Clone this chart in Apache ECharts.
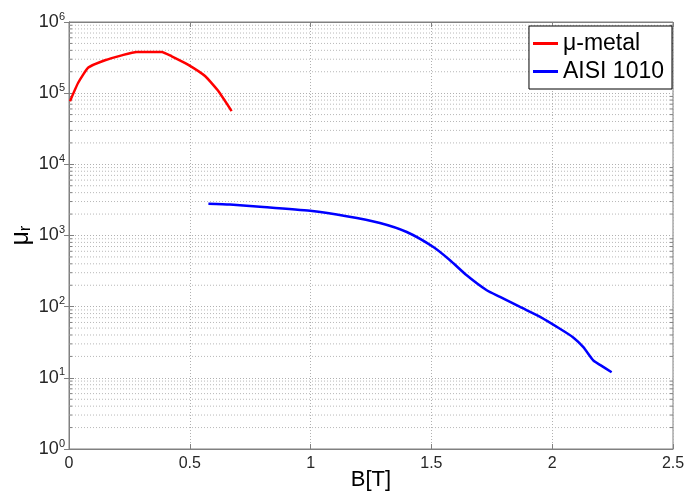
<!DOCTYPE html>
<html>
<head>
<meta charset="utf-8">
<script src="https://cdn.jsdelivr.net/npm/echarts@6/dist/echarts.min.js"></script>
<style>html,body{margin:0;padding:0;background:#fff}#c{width:689px;height:497px}</style>
</head>
<body>
<div id="c"></div>
<script>
// mu-metal data
const muB   = [0.004, 0.038, 0.08, 0.149, 0.218, 0.28, 0.384, 0.425, 0.494, 0.563, 0.618, 0.673];
const muVal = [77000, 140000, 229000, 290000, 340000, 380000, 380000, 330000, 250000, 174000, 107000, 56000];
// AISI 1010 data
const stB   = [0.577, 0.666, 0.804, 0.998, 1.149, 1.287, 1.398, 1.508, 1.577, 1.646, 1.729, 1.784, 1.867, 1.95, 2.032, 2.087, 2.129, 2.17, 2.198, 2.246];
const stVal = [2800, 2720, 2520, 2220, 1870, 1500, 1120, 690, 450, 276, 170, 137, 99, 72, 49, 37, 27, 17.6, 15.2, 12];
// axes
const xTicks = [0, 0.5, 1, 1.5, 2, 2.5];
const yDecades = [0, 1, 2, 3, 4, 5, 6];

const minorVals = [];
for (let e = 0; e < 6; e++) for (let m = 2; m <= 9; m++) minorVals.push([m * Math.pow(10, e)]);

const font = 'Liberation Sans, Arial, sans-serif';
const axisCol = '#808080';
const gridLine = {show: true, lineStyle: {type: [1, 2], color: '#b0b0b0', width: 1}};

const chart = echarts.init(document.getElementById('c'));
chart.setOption({
  animation: false,
  backgroundColor: '#fff',
  grid: {left: 69, right: 16, top: 22, bottom: 48, show: true, borderColor: axisCol, borderWidth: 1,
         containLabel: false, outerBoundsMode: 'none'},
  legend: {
    orient: 'vertical', right: 17, top: 26, padding: [6, 8, 6, 4], itemGap: 5,
    itemWidth: 25, itemHeight: 3, icon: 'rect',
    borderColor: '#000', borderWidth: 1, backgroundColor: '#fff',
    textStyle: {fontSize: 23, color: '#000', fontFamily: font},
    data: ['μ-metal', 'AISI 1010']
  },
  xAxis: [{
    type: 'value', min: xTicks[0], max: xTicks[xTicks.length - 1], interval: 0.5,
    axisLine: {lineStyle: {color: axisCol}},
    axisTick: {inside: true, length: 5, lineStyle: {color: axisCol}},
    axisLabel: {fontSize: 16, color: '#262626', margin: 7, fontFamily: font},
    splitLine: gridLine,
    name: 'B[T]', nameLocation: 'middle', nameGap: 31, nameMoveOverlap: false,
    nameTextStyle: {fontSize: 22, color: '#000', fontFamily: font, verticalAlign: 'middle'}
  }, {
    type: 'value', position: 'top', min: xTicks[0], max: xTicks[xTicks.length - 1], interval: 0.5,
    axisLine: {lineStyle: {color: axisCol}},
    axisTick: {inside: true, length: 5, lineStyle: {color: axisCol}},
    axisLabel: {show: false}, splitLine: {show: false}
  }],
  yAxis: [{
    type: 'log', logBase: 10, min: 1, max: 1e6, splitNumber: 6,
    axisLine: {lineStyle: {color: axisCol}},
    axisTick: {inside: true, length: 5, lineStyle: {color: axisCol}},
    axisLabel: {
      margin: 4, fontFamily: font,
      formatter: v => '{b|10}{s|' + Math.round(Math.log10(v)) + '}',
      rich: {
        b: {fontSize: 18, color: '#262626', fontFamily: font},
        s: {fontSize: 11, color: '#262626', fontFamily: font, padding: [0, 0, 11, 0]}
      }
    },
    splitLine: gridLine,
    name: '{m|μ}{r|r}', nameLocation: 'middle', nameGap: 48, nameRotate: 90, nameMoveOverlap: false,
    nameTextStyle: {
      verticalAlign: 'middle',
      rich: {
        m: {fontSize: 25, color: '#000', fontFamily: font},
        r: {fontSize: 17, color: '#000', fontFamily: font, padding: [0, 0, -8, 0]}
      }
    }
  }, {
    type: 'log', logBase: 10, min: 1, max: 1e6, splitNumber: 6, position: 'right',
    axisLine: {lineStyle: {color: axisCol}},
    axisTick: {inside: true, length: 5, lineStyle: {color: axisCol}},
    axisLabel: {show: false}, splitLine: {show: false}
  }],
  series: [{
    type: 'custom', silent: true, z: 1,
    coordinateSystem: 'cartesian2d',
    encode: {y: 0},
    data: minorVals,
    renderItem: function (params, api) {
      const v = api.value(0);
      const p0 = api.coord([0, v]);
      const p1 = api.coord([2.5, v]);
      return {type: 'group', children: [
        {type: 'line', shape: {x1: p0[0], y1: p0[1], x2: p1[0], y2: p1[1]},
         style: {stroke: '#b8b8b8', lineWidth: 1, lineDash: [1, 2]}},
        {type: 'line', shape: {x1: p0[0], y1: p0[1], x2: p0[0] + 3, y2: p0[1]},
         style: {stroke: axisCol, lineWidth: 1}},
        {type: 'line', shape: {x1: p1[0] - 3, y1: p1[1], x2: p1[0], y2: p1[1]},
         style: {stroke: axisCol, lineWidth: 1}}
      ]};
    }
  }, {
    name: 'μ-metal', type: 'line', showSymbol: false, z: 5, smooth: 0.15,
    data: muB.map((b, i) => [b, muVal[i]]),
    lineStyle: {color: '#ff0000', width: 2.5}, itemStyle: {color: '#ff0000'}
  }, {
    name: 'AISI 1010', type: 'line', showSymbol: false, z: 5, smooth: 0.2,
    data: stB.map((b, i) => [b, stVal[i]]),
    lineStyle: {color: '#0000ff', width: 2.5}, itemStyle: {color: '#0000ff'}
  }]
});
</script>
</body>
</html>
